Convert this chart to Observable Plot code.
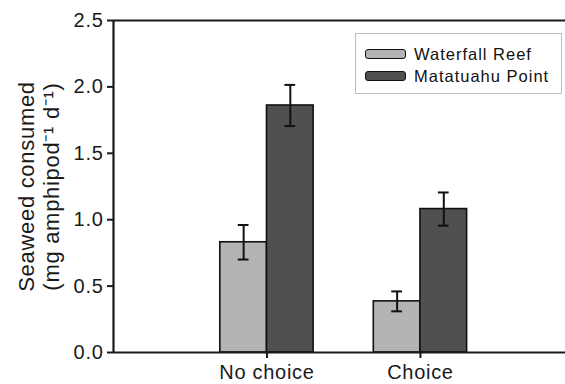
<!DOCTYPE html>
<html>
<head>
<meta charset="utf-8">
<script src="https://cdn.jsdelivr.net/npm/d3@7"></script>
<script src="https://cdn.jsdelivr.net/npm/@observablehq/plot@0.6"></script>
<style>
  body { margin: 0; background: #fff; font-family: "Liberation Sans", Arial, sans-serif; }
  #wrap { position: relative; width: 565px; height: 384px; }
  #wrap svg g[aria-label^="y-axis"] line, #wrap svg g[aria-label^="y-axis"] path,
  #wrap svg g[aria-label^="x-axis"] line, #wrap svg g[aria-label^="x-axis"] path { stroke-width: 2px; }
  .legend { position: absolute; left: 355px; top: 33px; width: 207px; height: 61px;
    border: 1px solid #bdbdbd; box-sizing: border-box; background: #fff; }
  .legend .row { position: absolute; left: 9px; height: 20px; display: flex; align-items: center; }
  .legend .sw { width: 39px; height: 8px; border: 1.5px solid #111; border-radius: 3px; margin-right: 8px; }
  .legend .lab { font-size: 16.5px; letter-spacing: 1px; color: #111; white-space: nowrap; }
</style>
</head>
<body>
<div id="wrap"></div>
<script>
const categories = ["No choice", "Choice"];
const sites = ["Waterfall Reef", "Matatuahu Point"];
const siteColors = ["#b4b4b4", "#505050"];
const waterfallMeans = [0.83, 0.385];
const waterfallSE = [0.13, 0.075];
const matatuahuMeans = [1.86, 1.08];
const matatuahuSE = [0.155, 0.125];
const yTicks = [0, 0.5, 1, 1.5, 2, 2.5];
const yTitle = "Seaweed consumed\n(mg amphipod\u207B\u00B9 d\u207B\u00B9)";

const rows = [];
categories.forEach((c, i) => {
  rows.push({cat: c, g: i + 1, site: sites[0], s: 0, mean: waterfallMeans[i], se: waterfallSE[i]});
  rows.push({cat: c, g: i + 1, site: sites[1], s: 1, mean: matatuahuMeans[i], se: matatuahuSE[i]});
});

const BW = 0.304;   // bar width in group units
const CAP = 0.035;  // error-cap half width in group units
const cx = d => d.g + (d.s - 0.5) * BW;

const chart = Plot.plot({
  width: 565,
  height: 384,
  marginLeft: 113,
  marginRight: 0,
  marginTop: 20,
  marginBottom: 32,
  style: { fontSize: "20px", letterSpacing: "0.7px", fontFamily: "Liberation Sans, Arial, sans-serif", color: "#1a1a1a", background: "#fff" },
  x: { domain: [0, 2.945], ticks: [1, 2], tickFormat: v => categories[v - 1], tickSize: 6, tickPadding: 6, label: null },
  y: { domain: [0, 2.5], ticks: yTicks, tickFormat: d3.format(".1f"), tickSize: 6, tickPadding: 4, label: null },
  color: { domain: sites, range: siteColors },
  marks: [
    Plot.rectY(rows, { x1: d => d.g + (d.s - 1) * BW, x2: d => d.g + d.s * BW, y1: 0, y2: "mean", fill: "site", stroke: "#111", strokeWidth: 1.6 }),
    Plot.ruleX(rows, { x: cx, y1: d => d.mean - d.se, y2: d => d.mean + d.se, stroke: "#111", strokeWidth: 2 }),
    Plot.ruleY(rows, { y: d => d.mean + d.se, x1: d => cx(d) - CAP, x2: d => cx(d) + CAP, stroke: "#111", strokeWidth: 2 }),
    Plot.ruleY(rows, { y: d => d.mean - d.se, x1: d => cx(d) - CAP, x2: d => cx(d) + CAP, stroke: "#111", strokeWidth: 2 }),
    Plot.ruleY([0, 2.5], { stroke: "#1a1a1a", strokeWidth: 2.2 }),
    Plot.ruleX([0], { stroke: "#1a1a1a", strokeWidth: 2.2 }),
    Plot.text([yTitle], { text: d => d, frameAnchor: "left", textAnchor: "middle", rotate: -90, dx: -75, fontSize: 22, lineHeight: 1.13, fill: "#1a1a1a" })
  ]
});

const wrap = document.getElementById("wrap");
wrap.appendChild(chart);

const legend = document.createElement("div");
legend.className = "legend";
sites.forEach((s, i) => {
  const row = document.createElement("div");
  row.className = "row";
  row.style.top = (i === 0 ? 10 : 32) + "px";
  const sw = document.createElement("div");
  sw.className = "sw";
  sw.style.background = siteColors[i];
  const lab = document.createElement("span");
  lab.className = "lab";
  lab.textContent = s;
  row.appendChild(sw);
  row.appendChild(lab);
  legend.appendChild(row);
});
wrap.appendChild(legend);
</script>
</body>
</html>
